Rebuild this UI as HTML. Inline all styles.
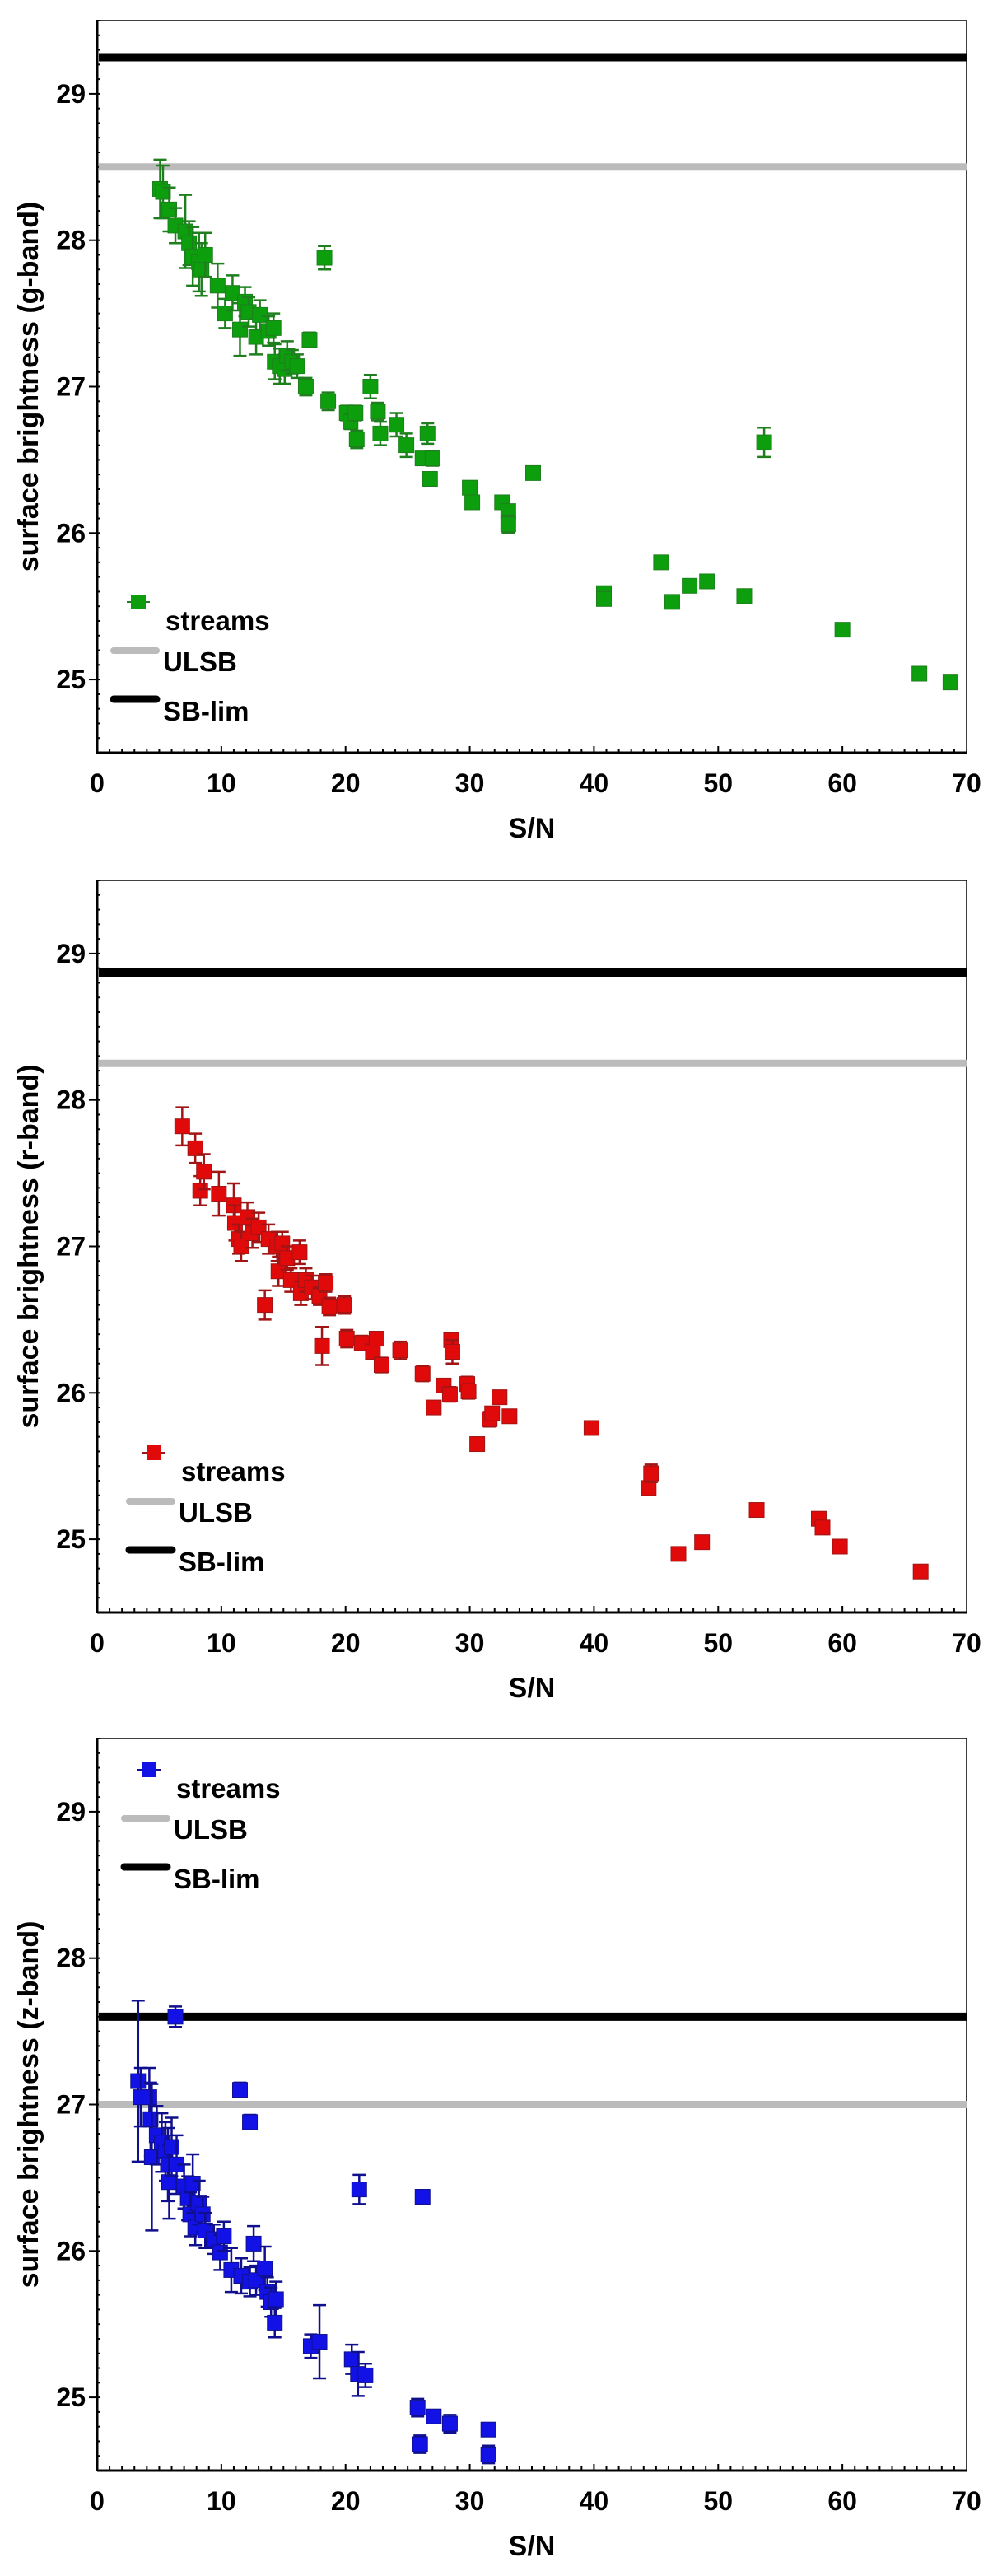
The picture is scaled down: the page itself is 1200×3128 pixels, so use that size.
<!DOCTYPE html>
<html><head><meta charset="utf-8"><style>
html,body{margin:0;padding:0;background:#fff}
svg{display:block}
text{font-family:"Liberation Sans",Arial,sans-serif;fill:#000}
</style></head><body>
<svg id="fig" width="1200" height="3128" viewBox="0 0 1200 3128" xmlns="http://www.w3.org/2000/svg"></svg>
<script>
// ---- data ----
const gX=[5.07,5.3,5.8,6.3,7.1,7.4,7.7,8.2,8.4,8.7,9.7,10.3,10.9,11.5,11.9,12.2,12.8,13.1,13.8,14.2,14.3,14.7,15.1,15.3,15.7,16.1,16.8,17.1,18.3,18.6,20.1,20.4,20.8,20.9,22.0,22.6,22.8,24.1,24.9,26.2,26.6,26.8,27.0,30.0,30.2,32.6,33.1,33.1,35.1,40.8,40.8,45.4,46.3,47.7,49.1,52.1,53.7,60.0,66.2,68.7];
const gY=[28.35,28.33,28.21,28.10,28.06,27.98,27.89,27.85,27.80,27.90,27.69,27.50,27.64,27.39,27.58,27.51,27.34,27.49,27.38,27.40,27.17,27.14,27.12,27.21,27.17,27.14,27.00,27.32,27.88,26.90,26.82,26.76,26.82,26.64,27.00,26.83,26.68,26.74,26.60,26.51,26.68,26.37,26.51,26.31,26.21,26.21,26.15,26.06,26.41,25.59,25.55,25.80,25.53,25.64,25.67,25.57,26.62,25.34,25.04,24.98];
const gE=[0.2,0.18,0.15,0.12,0.25,0.15,0.2,0.2,0.18,0.15,0.15,0.1,0.12,0.18,0.1,0.1,0.12,0.1,0.1,0.1,0.12,0.12,0.1,0.1,0.08,0.08,0.06,0.05,0.08,0.06,0.05,0.05,0.05,0.06,0.08,0.06,0.08,0.08,0.08,0.04,0.07,0.04,0.05,0.04,0.04,0.04,0.04,0.06,0.04,0.03,0.03,0.03,0.03,0.03,0.03,0.03,0.1,0.03,0.03,0.03];
const rX=[6.85,7.9,8.3,8.6,9.8,11.0,11.1,11.4,11.6,12.1,12.5,13.0,13.5,13.8,14.5,14.6,14.9,15.3,15.6,16.3,16.4,16.8,17.3,17.9,18.1,18.4,18.7,19.9,20.1,21.3,22.2,22.5,22.9,24.4,26.2,27.1,27.9,28.4,28.5,28.6,29.8,29.9,30.6,31.6,31.8,32.4,33.2,39.8,44.4,44.6,46.8,48.7,53.1,58.1,58.4,59.8,66.3];
const rY=[27.82,27.67,27.38,27.51,27.36,27.28,27.16,27.05,27.00,27.20,27.09,27.13,26.60,27.05,27.00,26.83,27.02,26.92,26.77,26.96,26.68,26.77,26.72,26.66,26.32,26.75,26.59,26.60,26.37,26.34,26.28,26.37,26.19,26.29,26.13,25.90,26.05,25.99,26.36,26.28,26.06,26.01,25.65,25.82,25.86,25.97,25.84,25.76,25.35,25.45,24.90,24.98,25.20,25.14,25.08,24.95,24.78];
const rE=[0.13,0.1,0.1,0.12,0.15,0.15,0.12,0.1,0.1,0.1,0.1,0.1,0.1,0.1,0.1,0.1,0.08,0.08,0.08,0.08,0.08,0.08,0.08,0.06,0.13,0.06,0.06,0.06,0.06,0.05,0.05,0.04,0.05,0.06,0.05,0.04,0.04,0.05,0.05,0.08,0.05,0.05,0.04,0.05,0.04,0.03,0.03,0.03,0.04,0.06,0.03,0.03,0.03,0.03,0.03,0.03,0.03];
const zX=[3.3,3.5,4.2,4.3,4.4,4.8,5.2,5.5,5.7,5.8,6.0,6.3,6.4,7.0,7.3,7.5,7.7,7.9,8.2,8.5,8.7,9.4,9.9,10.2,10.8,11.5,11.6,12.3,12.3,12.6,12.8,13.5,13.7,14.0,14.4,14.3,17.2,17.9,20.5,21.0,21.6,21.1,25.8,26.0,26.2,27.1,28.4,31.5,31.5];
const zY=[27.16,27.05,27.05,26.90,26.64,26.79,26.74,26.68,26.59,26.47,26.71,27.60,26.59,26.44,26.36,26.25,26.46,26.16,26.33,26.25,26.14,26.08,25.99,26.10,25.87,27.10,25.83,26.88,25.79,26.05,25.80,25.88,25.72,25.65,25.67,25.51,25.35,25.38,25.26,25.16,25.15,26.42,24.93,24.68,26.37,24.87,24.82,24.78,24.61];
const zE=[0.55,0.2,0.2,0.25,0.5,0.2,0.2,0.2,0.25,0.25,0.2,0.07,0.2,0.15,0.15,0.15,0.2,0.12,0.15,0.12,0.12,0.1,0.12,0.1,0.15,0.05,0.12,0.05,0.1,0.12,0.1,0.15,0.1,0.1,0.12,0.1,0.08,0.25,0.1,0.15,0.08,0.1,0.06,0.06,0.04,0.04,0.06,0.04,0.06];
const xTicks=[0,10,20,30,40,50,60,70];
const yTicks=[25,26,27,28,29];
const bandNames=["g","r","z"];
const sbLim=[29.25,28.87,27.6];
const ulsb=[28.5,28.25,27.0];
// ---- layout ----
const L=118,R=1174,H=889,tops=[25,1069,2111],XMIN=0,XMAX=70,YMIN=24.5,YMAX=29.5;
const NS="http://www.w3.org/2000/svg";
const svg=document.getElementById('fig');
function mk(tag,attrs,parent){const e=document.createElementNS(NS,tag);for(const k in attrs)e.setAttribute(k,attrs[k]);(parent||svg).appendChild(e);return e;}
const xs=v=>L+(v-XMIN)/(XMAX-XMIN)*(R-L);
const colors=[{f:"#0c9e0c",s:"#1f7f1f"},{f:"#e00a0a",s:"#a01515"},{f:"#1212e6",s:"#10108f"}];
const datasets=[[gX,gY,gE],[rX,rY,rE],[zX,zY,zE]];
const legendPos=[{x:138,y:753},{x:157,y:1786},{x:151,y:2171}];
const MS=9;

for(let p=0;p<3;p++){
  const T=tops[p],B=T+H;
  const ys=v=>T+(YMAX-v)/(YMAX-YMIN)*H;
  const g=mk('g',{});
  
  
  const fr=mk('rect',{x:L,y:T,width:R-L,height:H,fill:'none',stroke:'#000','stroke-width':1.5},g);
  
  
  mk('line',{x1:L,y1:T,x2:L,y2:B,stroke:'#000','stroke-width':3},g);
  mk('line',{x1:L,y1:B,x2:R,y2:B,stroke:'#000','stroke-width':3},g);
  for(let v=1;v<70;v++){mk('line',{x1:xs(v),y1:B,x2:xs(v),y2:B-(v%10==0?8:5),stroke:'#000','stroke-width':2},g);}
  for(let v=Math.round(YMIN*10);v<=Math.round(YMAX*10);v++){const yy=ys(v/10);mk('line',{x1:L-(v%10==0?10:2),y1:yy,x2:L+4,y2:yy,stroke:'#000','stroke-width':2},g);}
  xTicks.forEach(v=>{const t=mk('text',{x:xs(v),y:B+48,'text-anchor':'middle','font-size':32,'font-weight':600},g);t.textContent=v;
    
    });
  yTicks.forEach(v=>{const t=mk('text',{x:104,y:ys(v)+11,'text-anchor':'end','font-size':32,'font-weight':600},g);t.textContent=v;
    
    });
  const xt=mk('text',{x:(L+R)/2,y:B+103,'text-anchor':'middle','font-size':34,'font-weight':600},g);xt.textContent='S/N';
  
  
  const yt=mk('text',{x:0,y:0,'text-anchor':'middle','font-size':34,'font-weight':600,transform:`translate(46,${T+H/2}) rotate(-90)`},g);
  yt.textContent='surface brightness ('+bandNames[p]+'-band)';
  
  
  const l1=mk('line',{x1:L+2,y1:ys(ulsb[p]),x2:R,y2:ys(ulsb[p]),stroke:'#bbbbbb','stroke-width':9},g);
  
  
  const l2=mk('line',{x1:L+2,y1:ys(sbLim[p]),x2:R,y2:ys(sbLim[p]),stroke:'#000','stroke-width':10},g);
  
  
  const [X,Y,E]=datasets[p];const c=colors[p];
  for(let i=0;i<X.length;i++){
    const cx=xs(X[i]),cy=ys(Y[i]),e=E[i]*H/(YMAX-YMIN);
    const pg=mk('g',{},g);
    
    
    mk('line',{x1:cx,y1:cy-e,x2:cx,y2:cy+e,stroke:c.s,'stroke-width':2.5},pg);
    mk('line',{x1:cx-8,y1:cy-e,x2:cx+8,y2:cy-e,stroke:c.s,'stroke-width':2.5},pg);
    mk('line',{x1:cx-8,y1:cy+e,x2:cx+8,y2:cy+e,stroke:c.s,'stroke-width':2.5},pg);
    mk('rect',{x:cx-MS,y:cy-MS,width:2*MS,height:2*MS,fill:c.f,stroke:c.s,'stroke-width':1},pg);
  }
  const lp=legendPos[p];
  const lg=mk('g',{},g);
  
  
  const mx=lp.x+30,my=lp.y-22;
  mk('line',{x1:mx-14,y1:my,x2:mx+14,y2:my,stroke:c.s,'stroke-width':2},lg);
  mk('rect',{x:mx-MS,y:my-MS,width:2*MS,height:2*MS,fill:c.f},lg);
  const s1=mk('text',{x:lp.x+63,y:lp.y+12,'font-size':33,'font-weight':'bold'},lg);s1.textContent='streams';
  
  
  mk('line',{x1:lp.x,y1:lp.y+37,x2:lp.x+52,y2:lp.y+37,stroke:'#bbbbbb','stroke-width':8,'stroke-linecap':'round'},lg);
  const s2=mk('text',{x:lp.x+60,y:lp.y+62,'font-size':33,'font-weight':600},lg);s2.textContent='ULSB';
  
  
  mk('line',{x1:lp.x,y1:lp.y+96,x2:lp.x+52,y2:lp.y+96,stroke:'#000','stroke-width':9,'stroke-linecap':'round'},lg);
  const s3=mk('text',{x:lp.x+60,y:lp.y+122,'font-size':33,'font-weight':600},lg);s3.textContent='SB-lim';
  
  
}
</script>
</body></html>
